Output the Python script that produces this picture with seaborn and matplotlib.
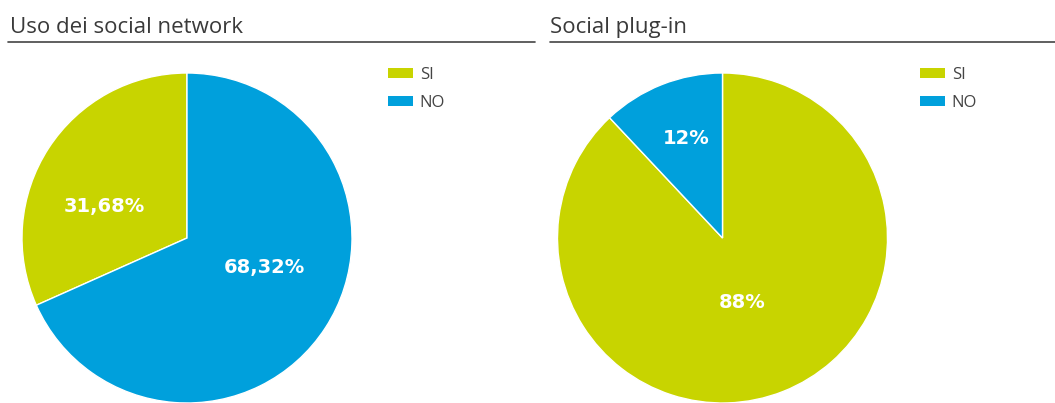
import matplotlib
matplotlib.use('Agg')
import matplotlib.pyplot as plt
import seaborn as sns
from matplotlib.patches import Patch
from matplotlib.lines import Line2D

# dati
categorie = ['SI', 'NO']
uso_social = [31.68, 68.32]
plugin = [88, 12]
etichette_uso = ['31,68%', '68,32%']
etichette_plugin = ['88%', '12%']
colori = ['#c8d400', '#00a0dc']

sns.set_theme(style='white')
plt.rcParams['font.family'] = ['Open Sans', 'DejaVu Sans']

W, H = 1055, 403
fig = plt.figure(figsize=(W / 100, H / 100), dpi=100)

def pie(ax, valori, etichette, counterclock, pos):
    ax.pie(valori, colors=colori, startangle=90, counterclock=counterclock,
           wedgeprops=dict(edgecolor='white', linewidth=1))
    ax.set_xlim(-1, 1)
    ax.set_ylim(-1, 1)
    ax.set_aspect('equal')
    ax.axis('off')
    for txt, (x, y) in zip(etichette, pos):
        ax.text(x, y, txt, color='white', fontsize=14, fontweight='bold',
                family='DejaVu Sans', ha='center', va='center')

# grafico a torta: uso dei social network
ax1 = fig.add_axes([22 / W, 0, 330 / W, 330 / H])
pie(ax1, uso_social, etichette_uso, True, [(-0.50, 0.19), (0.47, -0.18)])

# grafico a torta: social plug-in
ax2 = fig.add_axes([557.5 / W, 0, 330 / W, 330 / H])
pie(ax2, plugin, etichette_plugin, False, [(0.12, -0.39), (-0.22, 0.60)])

# titoli e linee
fig.text(10 / W, 1 - 33 / H, 'Uso dei social network', fontsize=16, color='#3a3a3a', va='baseline')
fig.text(550 / W, 1 - 33 / H, 'Social plug-in', fontsize=16, color='#3a3a3a', va='baseline')
fig.add_artist(Line2D([8 / W, 535 / W], [1 - 42 / H] * 2, color='#444444', lw=1.2))
fig.add_artist(Line2D([550 / W, 1], [1 - 42 / H] * 2, color='#444444', lw=1.2))

# legende
handles = [Patch(facecolor=c, edgecolor='none') for c in colori]
for x in [388, 920]:
    fig.legend(handles, categorie, loc='upper left', bbox_to_anchor=(x / W, 1 - 67 / H),
               frameon=False, fontsize=12, handlelength=1.5, handleheight=0.6,
               handletextpad=0.4, labelspacing=0.7, borderpad=0, borderaxespad=0,
               labelcolor='#444444')

plt.savefig('out.png', dpi=100)
